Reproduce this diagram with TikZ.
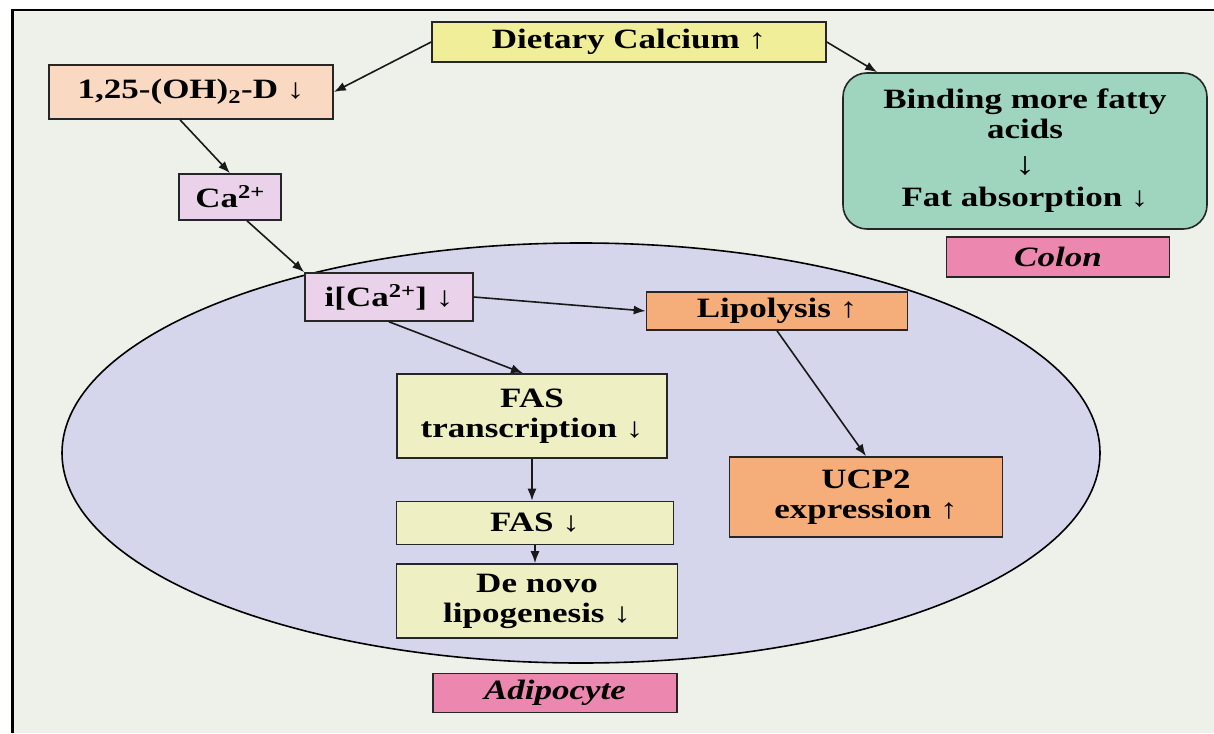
\documentclass[tikz,border=0pt]{standalone}
\usepackage{fontspec}
\setmainfont{Liberation Serif}[FakeStretch=1.25]
\usepackage{tikz}
\usetikzlibrary{arrows.meta,calc}

\definecolor{paper}{HTML}{EDF1EA}
\definecolor{cellfill}{HTML}{D5D6EC}
\definecolor{dietfill}{HTML}{F0EE98}
\definecolor{vitdfill}{HTML}{FAD9C2}
\definecolor{cafill}{HTML}{EAD3EA}
\definecolor{bindfill}{HTML}{9FD5BF}
\definecolor{tagfill}{HTML}{EC87AF}
\definecolor{lipofill}{HTML}{F5AE7A}
\definecolor{fasfill}{HTML}{EEF0C4}

\tikzset{
  box/.style={draw=black!85, line width=1.6pt, inner sep=0pt, align=center,
    font=\fontsize{28}{30}\selectfont\bfseries},
  tag/.style={box, fill=tagfill, font=\fontsize{28}{30}\selectfont\bfseries\itshape},
}

\begin{document}
\begin{tikzpicture}[x=1pt,y=-1pt]
\useasboundingbox (0,0) rectangle (1214,733);
\fill[paper] (12,10) rectangle (1214,733);
\draw[line width=1.8pt] (12,10) -- (1214,10);
\draw[line width=3pt] (12,733) -- (12,9);

% the adipocyte
\draw[fill=cellfill, line width=1.6pt] (581,453) ellipse [x radius=519, y radius=210];

\node[box, fill=dietfill, minimum width=394pt, minimum height=40pt] (diet) at (629,42) {Dietary Calcium ↑};
\node[box, fill=vitdfill, minimum width=284pt, minimum height=54pt] (vitd) at (191,92) {1,25-(OH)\textsubscript{2}-D ↓};
\node[box, fill=cafill, minimum width=102pt, minimum height=46pt] (ca) at (230,197) {Ca\textsuperscript{2+}};
\node[box, fill=bindfill, rounded corners=24pt, minimum width=364pt, minimum height=156pt] (bind) at (1025,151)
  {Binding more fatty\\acids\\[6pt]{\fontsize{32}{30}\selectfont ↓}\\[2pt]Fat absorption ↓};
\node[tag, minimum width=223pt, minimum height=40pt] (colon) at (1058,257) {Colon};

\node[box, fill=cafill, minimum width=168pt, minimum height=48pt] (ica) at (389,297) {i[Ca\textsuperscript{2+}] ↓};
\node[box, fill=lipofill, minimum width=261pt, minimum height=38pt] (lipo) at (777,311) {Lipolysis ↑};
\node[box, fill=fasfill, minimum width=270pt, minimum height=84pt] (fastr) at (532,416) {FAS\\transcription ↓};
\node[box, fill=lipofill, minimum width=273pt, minimum height=80pt] (ucp) at (866,497) {UCP2\\expression ↑};
\node[box, fill=fasfill, minimum width=277pt, minimum height=43pt] (fas) at (535,523) {FAS ↓};
\node[box, fill=fasfill, minimum width=281pt, minimum height=74pt] (denovo) at (537,601) {De novo\\lipogenesis ↓};
\node[tag, minimum width=244pt, minimum height=39pt] (adipo) at (555,693) {Adipocyte};

\path[->, >={Latex[length=12pt,width=9pt]}, line width=1.6pt, black!90]
(diet.west) edge (vitd.east)
(diet.east) edge ($(bind.north west)+(35,0)$)
($(vitd.south)+(-11,0)$) edge (ca.north)
($(ca.south)+(17,0)$) edge (ica.north west)
(ica.east) edge (lipo.west)
(ica.south) edge ($(fastr.north)+(-9,0)$)
(fastr.south) edge (fastr.south |- fas.north)
(fas.south) edge (fas.south |- denovo.north)
(lipo.south) edge (ucp.north);
\end{tikzpicture}
\end{document}
